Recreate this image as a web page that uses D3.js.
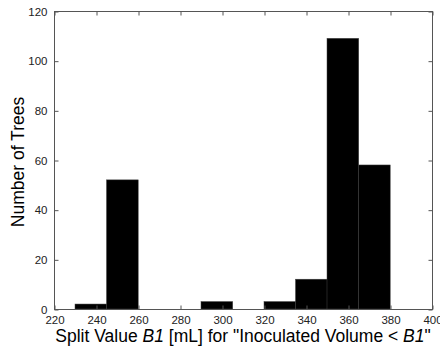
<!DOCTYPE html>
<html>
<head>
<meta charset="utf-8">
<script src="https://cdn.jsdelivr.net/npm/d3@7"></script>
<style>
  body { margin: 0; background: #fff; }
  svg { display: block; font-family: "Liberation Sans", Arial, sans-serif; }
</style>
</head>
<body>
<div id="chart"></div>
<script>
// histogram bins (left edges, width) and counts
const binStarts = [230, 245, 260, 275, 290, 305, 320, 335, 350, 365];
const binWidth = 15.1;
const counts = [2, 52, 0, 0, 3, 0, 3, 12, 109, 58];
const xTicks = [220, 240, 260, 280, 300, 320, 340, 360, 380, 400];
const yTicks = [0, 20, 40, 60, 80, 100, 120];

const width = 440, height = 348;
const margin = { top: 11, right: 8, bottom: 39, left: 54 };

const svg = d3.select('#chart')
  .append('svg')
  .attr('width', width)
  .attr('height', height);

const x = d3.scaleLinear().domain([220, 400]).range([margin.left, width - margin.right]);
const y = d3.scaleLinear().domain([0, 120]).range([height - margin.bottom, margin.top]);

// bars
svg.selectAll('.bar')
  .data(binStarts.map((s, i) => ({ s: s, c: counts[i] })).filter(d => d.c > 0))
  .enter()
  .append('rect')
  .attr('class', 'bar')
  .attr('x', d => x(d.s))
  .attr('width', d => x(d.s + binWidth) - x(d.s))
  .attr('y', d => y(d.c))
  .attr('height', d => y(0) - y(d.c))
  .attr('fill', '#000')
  .attr('stroke', '#444')
  .attr('stroke-width', 0.5);

const axisColor = '#555';
const tickLen = 4;

// box
svg.append('rect')
  .attr('x', x(220) + 0.5)
  .attr('y', y(120) + 0.5)
  .attr('width', x(400) - x(220))
  .attr('height', y(0) - y(120))
  .attr('fill', 'none')
  .attr('stroke', axisColor)
  .attr('stroke-width', 1);

// bottom axis with inward ticks
const xAxis = svg.append('g')
  .attr('transform', `translate(0.5,${y(0) + 0.5})`)
  .call(d3.axisBottom(x).tickValues(xTicks).tickSizeInner(-tickLen).tickSizeOuter(0).tickPadding(6));
// top axis ticks
const xAxisTop = svg.append('g')
  .attr('transform', `translate(0.5,${y(120) + 0.5})`)
  .call(d3.axisTop(x).tickValues(xTicks).tickSizeInner(-tickLen).tickSizeOuter(0).tickFormat(''));
// left axis
const yAxis = svg.append('g')
  .attr('transform', `translate(${x(220) + 0.5},0.5)`)
  .call(d3.axisLeft(y).tickValues(yTicks).tickSizeInner(-tickLen).tickSizeOuter(0).tickPadding(7));
// right axis ticks
const yAxisRight = svg.append('g')
  .attr('transform', `translate(${x(400) + 0.5},0.5)`)
  .call(d3.axisRight(y).tickValues(yTicks).tickSizeInner(-tickLen).tickSizeOuter(0).tickFormat(''));

[xAxis, xAxisTop, yAxis, yAxisRight].forEach(g => {
  g.select('.domain').remove();
  g.selectAll('.tick line').attr('stroke', axisColor);
  g.selectAll('.tick text')
    .attr('fill', '#222')
    .style('font-size', '11.5px')
    .style('font-family', '"Liberation Sans", Arial, sans-serif');
});

// axis titles
const xTitle = svg.append('text')
  .attr('x', (x(220) + x(400)) / 2)
  .attr('y', 342)
  .attr('text-anchor', 'middle')
  .style('font-size', '17.5px')
  .attr('fill', '#000');
xTitle.append('tspan').text('Split Value ');
xTitle.append('tspan').style('font-style', 'italic').text('B1');
xTitle.append('tspan').text(' [mL] for "Inoculated Volume < ');
xTitle.append('tspan').style('font-style', 'italic').text('B1');
xTitle.append('tspan').text('"');

svg.append('text')
  .attr('transform', `translate(24,${(y(0) + y(120)) / 2 + 2}) rotate(-90)`)
  .attr('text-anchor', 'middle')
  .style('font-size', '17.5px')
  .attr('fill', '#000')
  .text('Number of Trees');
</script>
</body>
</html>
